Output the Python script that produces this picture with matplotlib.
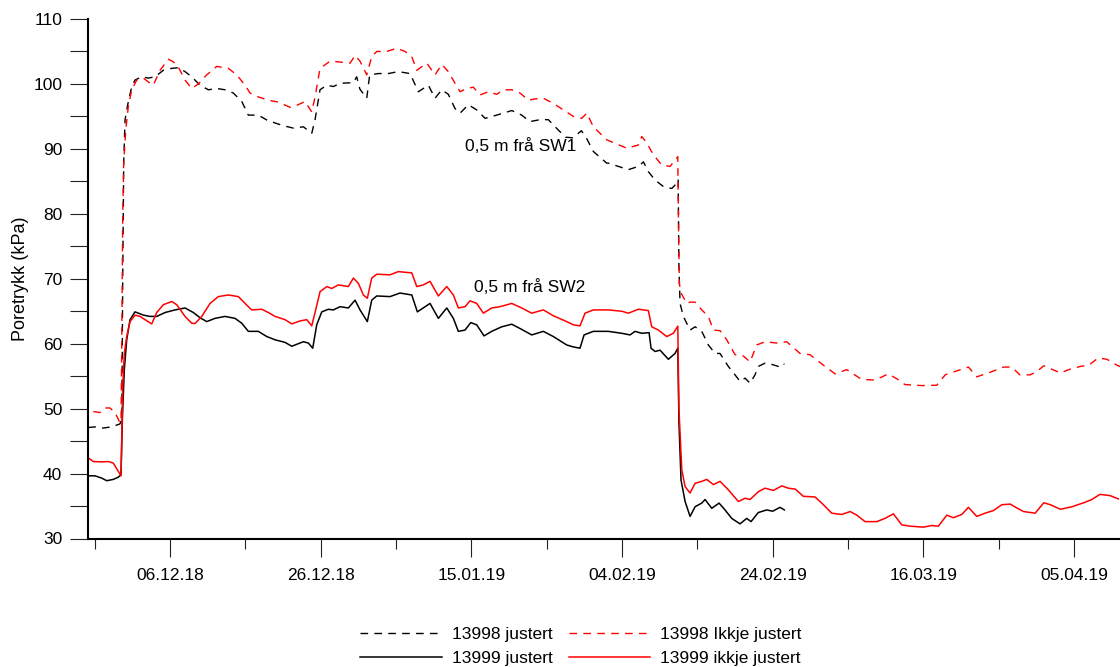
import pandas as pd
import matplotlib
matplotlib.use("Agg")
import matplotlib.pyplot as plt
import matplotlib.dates as mdates
from matplotlib.ticker import FixedLocator, MultipleLocator

plt.rcParams["font.family"] = ["Liberation Sans", "DejaVu Sans"]

# days counted from 25.11.2018
start = pd.Timestamp("2018-11-25")

# 13998 justert (dashed black)
d98_adj_days = [0.15, 1.3, 2.1, 3.26, 4.36, 4.6, 4.72, 4.85, 5.03, 5.38, 5.92, 6.35, 7.24, 8.12,
                9.0, 10.11, 11.23, 12.10, 12.99, 13.88, 14.98, 16.09, 17.20, 18.30, 19.40,
                20.52, 21.39, 22.72, 23.84, 25.16, 26.27, 27.37, 28.70, 29.81, 30.25, 30.91,
                31.80, 32.68, 33.57, 35.3, 35.78, 36.2, 37.11, 37.5, 38.65, 39.98, 41.30,
                42.86, 43.96, 45.29, 46.18, 47.07, 47.94, 48.83, 49.50, 50.60, 51.71, 52.82,
                54.37, 56.36, 57.68, 58.78, 60.11, 61.21, 62.54, 63.5, 64.5, 65.6, 66.3,
                67.19, 68.97, 69.18, 71.84, 73.17, 73.84, 74.49, 75.38, 76.49, 77.6, 78.26,
                78.45, 78.55, 78.7, 79.14, 80.03, 80.70, 81.58, 82.46, 83.35, 84.0, 85.11,
                86.00, 86.66, 87.33, 87.99, 88.65, 89.09, 89.98, 90.9, 91.75, 92.41, 92.54]
d98_adj_vals = [47.1, 47.2, 47.0, 47.2, 47.65, 48.5, 70.0, 88.0, 94.5, 96.8, 99.6, 100.6, 101.1,
                100.9, 101.1, 102.1, 102.4, 102.5, 101.9, 101.1, 99.8, 99.1, 99.3, 99.1, 98.6,
                97.3, 95.2, 95.2, 94.45, 93.9, 93.5, 93.2, 93.4, 92.4, 94.5, 99.1,
                99.8, 99.6, 100.1, 100.2, 101.1, 99.2, 97.8, 101.4, 101.6, 101.6, 101.9,
                101.6, 98.8, 99.8, 97.8, 99.1, 98.4, 96.2, 95.5, 96.8, 96.0, 94.7,
                95.2, 95.9, 95.2, 94.2, 94.5, 94.5, 92.9, 91.8, 91.7, 92.8, 91.6,
                89.6, 87.8, 87.8, 86.8, 87.3, 88.0, 86.5, 85.2, 84.2, 83.9, 84.7,
                85.3, 72.0, 66.2, 64.2, 62.1, 62.6, 61.9, 59.8, 58.5, 58.5, 56.5,
                55.2, 54.2, 54.7, 53.9, 55.2, 56.5, 57.0, 56.8, 56.5, 57.0, 56.8]

# 13998 ikkje justert (dashed red)
d98_raw_days = [0.82, 1.71, 2.37, 3.03, 3.70, 4.36, 4.5, 4.59, 4.72, 4.85, 5.12, 5.46, 5.91,
                6.58, 7.46, 8.12, 8.78, 9.67, 10.78, 11.44, 12.10, 12.99, 13.88, 14.76, 15.87,
                17.20, 18.74, 19.85, 20.96, 21.62, 22.72, 24.05, 25.38, 26.93, 27.82, 28.92,
                29.81, 30.25, 30.91, 32.24, 33.35, 34.9, 35.56, 36.22, 37.11, 37.77, 38.44,
                39.77, 41.09, 42.20, 43.09, 43.75, 45.08, 46.18, 47.07, 47.94, 48.83, 49.50,
                50.38, 51.26, 52.15, 53.25, 54.37, 55.24, 56.36, 57.46, 58.56, 59.5, 60.55,
                61.88, 63.20, 64.54, 65.65, 66.32, 67.19, 68.97, 71.63, 73.17, 73.62, 74.28,
                75.16, 76.27, 77.38, 78.40, 78.48, 78.6, 78.83, 79.59, 80.03, 80.70, 81.58,
                82.46, 83.12, 84.01, 84.90, 86.00, 87.10, 87.99, 88.88, 89.98, 91.5, 92.86,
                94.62, 95.95, 97.72, 99.28, 100.83, 102.8, 104.6, 106.35, 107.46, 108.57,
                110.78, 112.78, 113.9, 115.65, 116.98, 118.09, 119.86, 121.63, 122.75, 123.8,
                125.18, 126.05, 126.98, 129.19, 130.52, 131.85, 132.95, 134.22, 135.36,
                136.68, 137.1]
d98_raw_vals = [49.55, 49.4, 50.1, 50.1, 49.4, 47.8, 48.5, 60.0, 80.0, 87.8, 92.9, 96.5, 99.1,
                100.6, 100.9, 100.3, 99.8, 102.1, 103.8, 103.4, 102.6, 100.6, 99.3, 100.0, 101.4,
                102.7, 102.4, 101.4, 99.8, 98.6, 98.0, 97.5, 97.2, 96.4, 96.7, 97.3,
                95.7, 98.0, 102.4, 103.5, 103.4, 103.2, 104.4, 103.5, 101.4, 104.2, 105.0,
                105.0, 105.5, 105.0, 104.2, 102.1, 103.2, 101.4, 103.0, 101.9, 100.1, 98.8,
                99.3, 99.5, 98.3, 98.8, 98.4, 99.1, 99.1, 98.6, 97.5, 97.7, 97.8,
                97.0, 96.0, 95.0, 94.7, 95.5, 93.4, 91.4, 90.1, 90.6, 91.9, 90.9,
                89.1, 87.5, 87.3, 88.8, 80.0, 69.3, 67.8, 66.2, 66.4, 66.4, 65.2,
                64.2, 62.1, 62.0, 60.6, 58.3, 58.1, 57.2, 59.8, 60.3, 60.1, 60.3,
                58.5, 58.3, 56.7, 55.35, 56.0, 54.5, 54.4, 55.35, 54.6, 53.7,
                53.55, 53.6, 55.2, 55.9, 56.4, 54.9, 55.6, 56.4, 56.4, 55.2,
                55.2, 55.7, 56.6, 55.5, 56.1, 56.5, 56.7, 57.8, 57.6,
                56.7, 56.5]

# 13999 justert (solid black)
d99_adj_days = [0.15, 1.04, 1.93, 2.60, 3.47, 4.14, 4.49, 4.67, 4.93, 5.25, 5.69, 6.35, 7.46,
                8.34, 9.23, 10.34, 11.66, 12.99, 14.09, 14.98, 15.87, 16.97, 18.30, 19.63,
                20.52, 21.39, 22.72, 23.84, 24.94, 26.27, 27.16, 28.03, 28.70, 29.36, 29.94,
                30.47, 31.14, 32.01, 32.68, 33.57, 34.67, 35.56, 36.22, 37.19, 37.77, 38.44,
                40.20, 41.53, 43.09, 43.83, 45.51, 46.62, 47.73, 48.61, 49.27, 50.16, 50.92,
                51.71, 52.68, 53.70, 55.03, 56.36, 57.68, 59.01, 60.55, 61.88, 63.66, 64.54,
                65.42, 65.96, 67.19, 69.18, 70.96, 72.06, 72.73, 73.62, 74.59, 74.85, 75.38,
                76.05, 77.15, 78.04, 78.40, 78.55, 78.83, 79.37, 80.03, 80.70, 81.58, 82.02,
                82.91, 83.88, 84.67, 85.56, 86.66, 87.55, 88.12, 89.09, 90.21, 91.0, 91.97,
                92.54]
d99_adj_vals = [39.65, 39.65, 39.3, 38.9, 39.1, 39.45, 39.8, 48.3, 56.0, 60.6, 63.7, 64.9, 64.4,
                64.2, 64.2, 64.8, 65.2, 65.5, 64.8, 64.0, 63.4, 63.9, 64.2, 63.9,
                63.15, 61.9, 61.9, 61.1, 60.6, 60.2, 59.6, 60.0, 60.3, 60.1, 59.3,
                62.9, 64.9, 65.3, 65.2, 65.7, 65.5, 66.7, 65.2, 63.4, 66.7, 67.35,
                67.25, 67.8, 67.5, 64.9, 66.2, 63.9, 65.5, 63.9, 61.9, 62.1, 63.25,
                62.9, 61.2, 61.9, 62.6, 63.0, 62.2, 61.35, 61.9, 61.1, 59.8, 59.5,
                59.3, 61.35, 61.9, 61.9, 61.6, 61.35, 61.9, 61.6, 61.7, 59.3, 58.8,
                59.0, 57.6, 58.5, 59.3, 48.0, 39.0, 35.7, 33.4, 34.9, 35.45, 36.0,
                34.65, 35.45, 34.4, 33.1, 32.25, 33.1, 32.6, 34.0, 34.4, 34.2, 34.8,
                34.4]

# 13999 ikkje justert (solid red)
d99_raw_days = [0.15, 0.82, 1.93, 2.81, 3.47, 4.14, 4.49, 4.72, 4.93, 5.25, 5.69, 6.35, 7.02,
                7.68, 8.57, 9.23, 10.11, 11.23, 11.89, 12.99, 13.88, 14.32, 15.21, 16.31, 17.41,
                18.74, 20.07, 20.96, 21.84, 23.17, 24.05, 24.94, 26.27, 27.16, 28.26, 29.15,
                29.81, 30.25, 30.91, 31.80, 32.46, 33.34, 34.67, 35.33, 36.00, 36.66, 37.19,
                37.77, 38.44, 40.20, 41.30, 43.09, 43.75, 44.62, 45.51, 46.62, 47.73, 48.61,
                49.27, 50.16, 50.82, 51.71, 52.59, 53.70, 54.81, 56.36, 57.68, 59.01, 60.55,
                61.88, 63.66, 64.54, 65.42, 66.09, 67.19, 69.18, 70.96, 71.84, 73.17, 74.49,
                74.94, 75.82, 76.93, 77.81, 78.40, 78.55, 78.93, 79.37, 80.03, 80.70, 81.58,
                82.25, 83.12, 84.01, 85.11, 86.44, 87.33, 87.99, 89.09, 89.98, 91.09, 92.20,
                93.07, 94.0, 95.06, 96.61, 97.51, 98.84, 100.17, 101.27, 102.16, 103.26,
                104.81, 105.91, 107.02, 108.13, 109.24, 111.00, 112.12, 112.99, 114.11,
                114.98, 116.10, 116.98, 118.09, 119.19, 120.30, 121.41, 122.52, 123.41,
                124.29, 125.84, 126.98, 127.86, 129.19, 130.74, 132.28, 133.35, 134.45,
                135.79, 136.88]
d99_raw_vals = [42.4, 41.85, 41.8, 41.85, 41.6, 40.3, 39.65, 53.4, 58.5, 61.1, 63.4, 64.4, 64.2,
                63.7, 63.05, 64.8, 66.0, 66.5, 66.0, 64.2, 63.15, 63.1, 64.2, 66.2, 67.25,
                67.5, 67.25, 66.2, 65.2, 65.3, 64.8, 64.2, 63.7, 63.05, 63.5, 63.7,
                62.75, 64.8, 68.0, 68.8, 68.5, 69.05, 68.8, 70.1, 69.3, 67.5, 67.0,
                70.1, 70.7, 70.6, 71.1, 70.9, 68.8, 69.05, 69.6, 67.35, 68.8, 67.5,
                65.5, 65.7, 66.6, 66.2, 64.7, 65.5, 65.7, 66.2, 65.5, 64.7, 65.2,
                64.3, 63.4, 62.9, 62.75, 64.7, 65.2, 65.2, 65.0, 64.7, 65.3, 65.1,
                62.6, 62.1, 61.1, 61.6, 62.7, 50.0, 40.6, 38.0, 37.0, 38.5, 38.8,
                39.1, 38.3, 38.8, 37.5, 35.7, 36.2, 36.0, 37.2, 37.75, 37.4, 38.1,
                37.75, 37.6, 36.5, 36.4, 35.45, 33.9, 33.7, 34.15, 33.6, 32.6,
                32.6, 33.1, 33.8, 32.1, 31.9, 31.75, 32.0, 31.9, 33.6,
                33.2, 33.7, 34.8, 33.4, 33.9, 34.3, 35.2, 35.3, 34.7,
                34.15, 33.9, 35.5, 35.2, 34.5, 34.9, 35.5, 36.0, 36.8,
                36.6, 36.1]

major_dates = pd.date_range("2018-12-06", periods=7, freq="20D")
minor_dates = pd.date_range("2018-11-26", periods=7, freq="20D")

t0 = mdates.date2num(start)


def to_x(days):
    return [t0 + d for d in days]


fig = plt.figure(figsize=(11.2, 6.67), dpi=100)
ax = fig.add_axes([88 / 1120, 1 - 538.5 / 667, 1032 / 1120, 519.5 / 667])

dash = (0, (5.5, 4.5))
ax.plot(to_x(d98_adj_days), d98_adj_vals, color="black", lw=1.0, ls=dash, label="13998 justert")
ax.plot(to_x(d99_adj_days), d99_adj_vals, color="black", lw=1.1, label="13999 justert")
ax.plot(to_x(d98_raw_days), d98_raw_vals, color="#ff0000", lw=1.0, ls=dash, label="13998 Ikkje justert")
ax.plot(to_x(d99_raw_days), d99_raw_vals, color="#ff0000", lw=1.1, label="13999 ikkje justert")

ax.text(t0 + 50.16, 89.73, "0,5 m frå SW1", fontsize=12.5, va="baseline")
ax.text(t0 + 51.4, 67.93, "0,5 m frå SW2", fontsize=12.5, va="baseline")

ax.set_xlim(t0 + 0.11, t0 + 137.1)
ax.set_ylim(30, 110)

ax.xaxis.set_major_locator(FixedLocator(mdates.date2num(major_dates)))
ax.xaxis.set_minor_locator(FixedLocator(mdates.date2num(minor_dates)))
ax.xaxis.set_major_formatter(mdates.DateFormatter("%d.%m.%y"))
ax.yaxis.set_major_locator(MultipleLocator(10))
ax.yaxis.set_minor_locator(MultipleLocator(5))

for side in ["top", "right"]:
    ax.spines[side].set_visible(False)
for side in ["left", "bottom"]:
    ax.spines[side].set_linewidth(1.5)

ax.tick_params(axis="both", which="both", direction="out", width=0.8, color="#222222",
               labelsize=12.5)
ax.tick_params(axis="y", which="both", length=13, pad=5.5)
ax.tick_params(axis="x", which="major", length=13, pad=8)
ax.tick_params(axis="x", which="minor", length=7)

ax.set_ylabel("Poretrykk (kPa)", fontsize=13)
ax.yaxis.set_label_coords((29 - 88) / 1032, 0.5)

ax.legend(loc="center", bbox_to_anchor=(581 / 1120, 1 - 646.5 / 667),
          bbox_transform=fig.transFigure, ncol=2, frameon=False, fontsize=12.5,
          handlelength=4.7, handletextpad=0.58, columnspacing=0.9, labelspacing=0.5,
          borderpad=0)

fig.savefig("out.png", dpi=100)
